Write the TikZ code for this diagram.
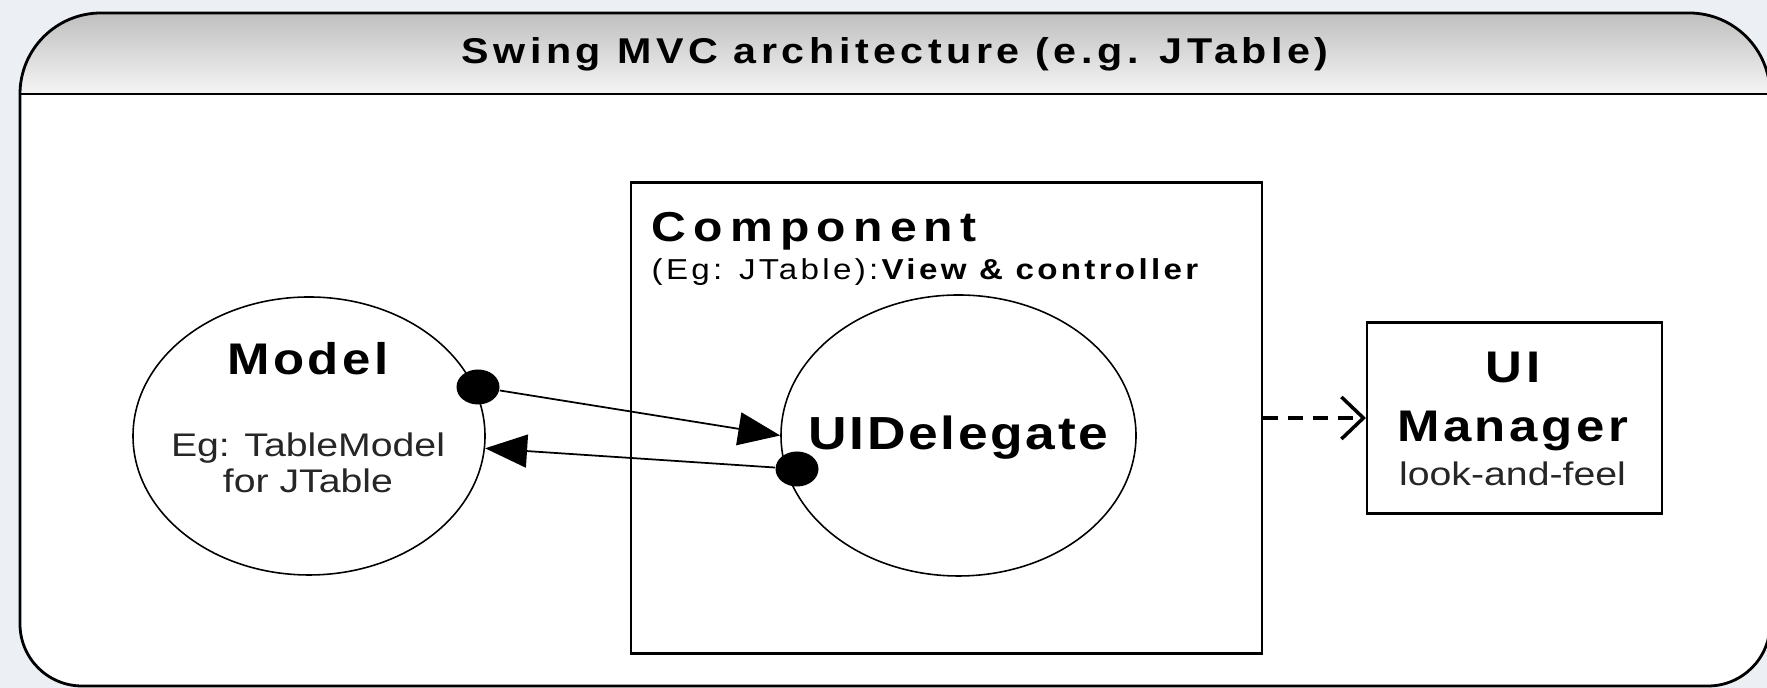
\documentclass[tikz,border=0pt]{standalone}
\usepackage{graphicx}
\usepackage{fontspec}
\setmainfont{Liberation Sans}
\newfontfamily\titlefont[LetterSpace=11]{Liberation Sans}
\newfontfamily\compfont[LetterSpace=15]{Liberation Sans}
\newfontfamily\subfont[LetterSpace=10]{Liberation Sans}
\newfontfamily\headfont[LetterSpace=7]{Liberation Sans}
\newfontfamily\delegatefont[LetterSpace=5]{Liberation Sans}
\newcommand{\wide}[2][1.15]{\scalebox{#1}[1]{#2}}
\definecolor{pagebg}{RGB}{236,240,245}
\usetikzlibrary{arrows.meta,shapes.geometric,positioning}

\begin{document}
\begin{tikzpicture}[
    heading/.style={font=\headfont\bfseries\fontsize{12.6}{15}\selectfont, anchor=base, inner sep=0pt},
    note/.style={font=\fontsize{9.3}{11}\selectfont, anchor=base, inner sep=0pt, text=black!85},
    oval/.style={ellipse, draw, line width=0.45pt, inner sep=0pt},
    box/.style={draw, line width=0.6pt, inner sep=0pt},
    blob/.style={ellipse, fill, inner sep=0pt, minimum width=4.3mm, minimum height=3.5mm},
    link/.style={-{Triangle[length=4.2mm,width=3.3mm]}, line width=0.5pt},
    uses/.style={-{Straight Barb[length=2.2mm,width=4.2mm]}, dash pattern=on 4.3pt off 2.8pt, line width=1pt}
]
    \useasboundingbox (0,0) rectangle (17.67,6.88);
    \clip (0,0) rectangle (17.67,6.88);
    \fill[pagebg] (0,0) rectangle (17.67,6.88);

    % Frame
    \fill[white] (0.20,0.64) -- (0.20,5.94) arc[start angle=180, end angle=90, radius=0.81]
        -- (16.89,6.75) arc[start angle=90, end angle=0, radius=0.81]
        -- (17.70,0.64) arc[start angle=0, end angle=-90, radius=0.62]
        -- (0.82,0.02) arc[start angle=270, end angle=180, radius=0.62] -- cycle;
    \shade[top color=black!25, bottom color=black!4] (0.20,5.94) arc[start angle=180, end angle=90, radius=0.81]
        -- (16.89,6.75) arc[start angle=90, end angle=0, radius=0.81] -- cycle;
    \draw[line width=0.8pt] (0.20,0.64) -- (0.20,5.94) arc[start angle=180, end angle=90, radius=0.81]
        -- (16.89,6.75) arc[start angle=90, end angle=0, radius=0.81]
        -- (17.70,0.64) arc[start angle=0, end angle=-90, radius=0.62]
        -- (0.82,0.02) arc[start angle=270, end angle=180, radius=0.62] -- cycle;
    \draw[line width=0.8pt] (0.20,5.94) -- (17.70,5.94);
    \node[font=\titlefont\bfseries\fontsize{10.2}{12}\selectfont, anchor=base, inner sep=0pt] (title) at (8.95,6.24) {\wide{Swing MVC architecture (e.g. JTable)}};

    % Component
    \node[box, minimum width=6.31cm, minimum height=4.71cm] (comp) at (9.465,2.70) {};
    \node[font=\compfont\bfseries\fontsize{11.9}{14}\selectfont, anchor=base west, inner sep=0pt] (compname) at (6.51,4.463) {\wide{Component}};
    \node[font=\subfont\fontsize{8.2}{10}\selectfont, anchor=base west, inner sep=0pt] (compnote) at (6.51,4.08) {\wide{(Eg: JTable):\textbf{View \& controller}}};
    \node[oval, minimum width=3.55cm, minimum height=2.81cm] (ud) at (9.585,2.525) {};
    \node[heading, font=\delegatefont\bfseries\fontsize{13.2}{15}\selectfont] (udname) at (9.585,2.38) {\wide{UIDelegate}};

    % Model
    \node[oval, minimum width=3.52cm, minimum height=2.78cm] (model) at (3.09,2.52) {};
    \node[heading] (modelname) at (3.08,3.13) {\wide{Model}};
    \node[note] (modelnote) at (3.08,2.31) {\wide[1.2]{Eg: TableModel}};
    \node[note] (modelnote2) at (3.08,1.95) {\wide[1.2]{for JTable}};

    % UI Manager
    \node[box, minimum width=2.95cm, minimum height=1.91cm] (uim) at (15.145,2.70) {};
    \node[heading] (uimname) at (15.13,3.05) {\wide{UI}};
    \node[heading] (uimname2) at (15.125,2.46) {\wide{Manager}};
    \node[note] (uimnote) at (15.125,2.02) {\wide[1.2]{look-and-feel}};

    % Links
    \node[blob] (mdot) at (4.78,3.01) {};
    \node[blob] (udot) at (7.97,2.19) {};
    \draw[link] (mdot) -- (ud.west);
    \draw[link] (udot) -- (model.-4);
    \draw[uses] (comp.east) -- (uim.west);
\end{tikzpicture}
\end{document}
